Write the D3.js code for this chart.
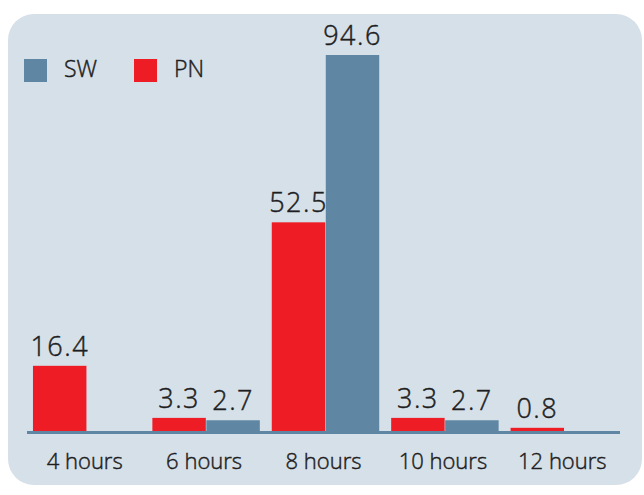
<!DOCTYPE html>
<html>
<head>
<meta charset="utf-8">
<script src="https://cdn.jsdelivr.net/npm/d3@7"></script>
<style>
  html, body { margin: 0; padding: 0; background: #ffffff; }
  svg { display: block; }
  text { font-family: "Open Sans", "Noto Sans", sans-serif; font-weight: 300; fill: #1e1e1e; stroke: #1e1e1e; stroke-width: 0.45px; }
</style>
</head>
<body>
<svg id="chart" width="644" height="495"></svg>
<script>
const categories = ["4 hours", "6 hours", "8 hours", "10 hours", "12 hours"];
const seriesNames = ["PN", "SW"];
const pnValues = [16.4, 3.3, 52.5, 3.3, 0.8];
const swValues = [null, 2.7, 94.6, 2.7, null];
const legendOrder = ["SW", "PN"];
const colors = { PN: "#ee1c25", SW: "#5f86a3" };

const values = { PN: pnValues, SW: swValues };
const svg = d3.select("#chart");

// panel background
svg.append("rect")
  .attr("x", 8).attr("y", 14)
  .attr("width", 634).attr("height", 471)
  .attr("rx", 26).attr("ry", 26)
  .attr("fill", "#d6e0e9");

const baseY = 431;
const x0 = d3.scaleBand().domain(categories).range([27, 624])
  .paddingInner(0.1).paddingOuter(0.05);
const x1 = d3.scaleBand().domain(seriesNames).range([0, x0.bandwidth()])
  .paddingInner(0.01);
const y = d3.scaleLinear().domain([0, 94.6]).range([baseY, 55]);

// x axis (drawn beneath bars)
const xAxis = d3.axisBottom(x0).tickSize(0).tickPadding(0);
const axisG = svg.append("g").attr("transform", `translate(0,${baseY + 1.5})`).call(xAxis);
axisG.select(".domain")
  .attr("d", `M${x0.range()[0]},0H${x0.range()[1] - 4}`)
  .attr("stroke", "#5f86a3").attr("stroke-width", 3);
axisG.selectAll("text")
  .attr("font-size", 22)
  .attr("dy", null)
  .attr("y", 36)
  .attr("dx", -2)
  .style("font-family", "'Open Sans', 'Noto Sans', sans-serif")
  .style("font-weight", 300)
  .attr("fill", "#1e1e1e");

const groups = svg.append("g").selectAll("g")
  .data(categories).join("g")
  .attr("transform", d => `translate(${x0(d)},0)`);

seriesNames.forEach(s => {
  groups.each(function(cat, i) {
    const v = values[s][i];
    if (v == null) return;
    const g = d3.select(this);
    g.append("rect")
      .attr("x", x1(s))
      .attr("y", y(v))
      .attr("width", x1.bandwidth())
      .attr("height", baseY - y(v))
      .attr("fill", colors[s]);
    g.append("text")
      .attr("x", x1(s) + x1.bandwidth() / 2)
      .attr("y", y(v) - 10)
      .attr("text-anchor", "middle")
      .attr("font-size", 27)
      .attr("letter-spacing", 1.5)
      .text(v.toFixed(1));
  });
});

// legend
const legendX = { SW: 24, PN: 134 };
const legend = svg.append("g").selectAll("g").data(legendOrder).join("g")
  .attr("transform", d => `translate(${legendX[d]},59)`);
legend.append("rect").attr("width", 23).attr("height", 23).attr("fill", d => colors[d]).style("stroke", "none");
legend.append("text").attr("x", 40).attr("y", 18).attr("font-size", 23).text(d => d);
</script>
</body>
</html>
